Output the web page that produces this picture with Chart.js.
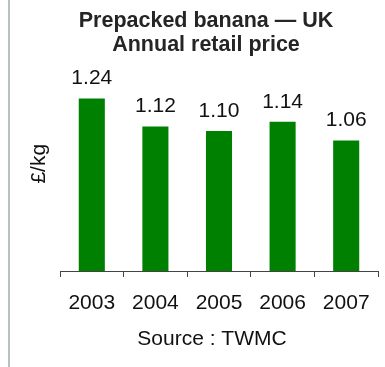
<!DOCTYPE html>
<html>
<head>
<meta charset="utf-8">
<script src="https://cdn.jsdelivr.net/npm/chart.js@4/dist/chart.umd.min.js"></script>
<style>
  html, body { margin: 0; padding: 0; background: #fff; }
  #wrap { position: relative; width: 385px; height: 367px; }
  canvas { display: block; }
</style>
</head>
<body>
<div id="wrap"><canvas id="c" width="385" height="367"></canvas></div>
<script>
const years = ['2003', '2004', '2005', '2006', '2007'];
const prices = [1.24, 1.12, 1.10, 1.14, 1.06];
const titleLines = ['Prepacked banana \u2014 UK', 'Annual retail price'];
const yAxisTitle = '\u00a3/kg';
const sourceNote = 'Source : TWMC';

const FONT = "'Liberation Sans', Arial, sans-serif";

const leftRule = {
  id: 'leftRule',
  beforeDraw(chart) {
    const ctx = chart.ctx;
    ctx.save();
    ctx.fillStyle = '#ffffff';
    ctx.fillRect(0, 0, chart.width, chart.height);
    ctx.fillStyle = '#b9c3be';
    ctx.fillRect(8, 0, 2, chart.height);
    ctx.restore();
  }
};

const valueLabels = {
  id: 'valueLabels',
  afterDatasetsDraw(chart) {
    const ctx = chart.ctx;
    const meta = chart.getDatasetMeta(0);
    ctx.save();
    ctx.font = '21px ' + FONT;
    ctx.fillStyle = '#111';
    ctx.textAlign = 'center';
    ctx.textBaseline = 'middle';
    meta.data.forEach((bar, i) => {
      ctx.fillText(prices[i].toFixed(2), bar.x, bar.y - 20);
    });
    ctx.restore();
  }
};

const sourceLabel = {
  id: 'sourceLabel',
  afterDraw(chart) {
    const ctx = chart.ctx;
    const area = chart.chartArea;
    ctx.save();
    ctx.font = '21px ' + FONT;
    ctx.fillStyle = '#111';
    ctx.textAlign = 'center';
    ctx.textBaseline = 'middle';
    ctx.fillText(sourceNote, (area.left + area.right) / 2 - 7, area.bottom + 68);
    ctx.restore();
  }
};

new Chart(document.getElementById('c'), {
  type: 'bar',
  data: {
    labels: years,
    datasets: [{
      data: prices,
      backgroundColor: '#008000',
      borderWidth: 0,
      categoryPercentage: 1,
      barPercentage: 0.41
    }]
  },
  options: {
    responsive: false,
    animation: false,
    devicePixelRatio: 1,
    layout: { padding: { left: 34, right: 7, top: 0, bottom: 0 } },
    plugins: {
      legend: { display: false },
      tooltip: { enabled: false },
      title: {
        display: true,
        text: titleLines,
        color: '#252525',
        font: { family: FONT, size: 21.5, weight: 'bold', lineHeight: 1.093 },
        padding: { top: 9.5, bottom: 0 }
      }
    },
    scales: {
      x: {
        grid: {
          display: true,
          drawOnChartArea: false,
          drawTicks: true,
          tickLength: 6,
          offset: true,
          color: '#444'
        },
        border: { display: true, color: '#444', width: 1 },
        ticks: {
          color: '#111',
          padding: 14,
          font: { family: FONT, size: 21 },
          maxRotation: 0
        },
        afterFit(s) { s.height = 96; }
      },
      y: {
        min: 0.5,
        max: 1.42,
        grid: { display: false },
        border: { display: false },
        ticks: { display: false },
        title: {
          display: true,
          text: yAxisTitle,
          color: '#111',
          font: { family: FONT, size: 21 },
          padding: { top: -7.6, bottom: 0 }
        },
        afterFit(s) { s.width = 26; }
      }
    }
  },
  plugins: [leftRule, valueLabels, sourceLabel]
});
</script>
</body>
</html>
